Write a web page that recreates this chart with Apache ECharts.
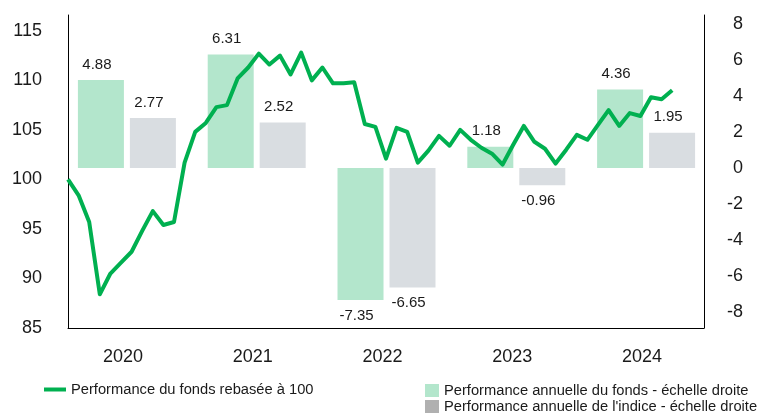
<!DOCTYPE html>
<html>
<head>
<meta charset="utf-8">
<script src="https://cdn.jsdelivr.net/npm/echarts@6/dist/echarts.min.js"></script>
<style>
  html, body { margin: 0; padding: 0; background: #fff; }
  #chart { width: 758px; height: 413px; }
</style>
</head>
<body>
<div id="chart"></div>
<script>
"use strict";

// annees (axe du bas)
var years = ["2020", "2021", "2022", "2023", "2024"];
// performance annuelle du fonds / de l'indice (echelle droite)
var fundYearly = [4.88, 6.31, -7.35, 1.18, 4.36];
var indexYearly = [2.77, 2.52, -6.65, -0.96, 1.95];
// valeur mensuelle du fonds rebasee a 100 (fin dec. 2019 -> sept. 2024)
var fundRebased = [
  100.0, 98.4, 95.7, 88.4, 90.5, 91.6, 92.7, 94.8, 96.8, 95.4, 95.7, 101.7,
  104.8, 105.7, 107.3, 107.5, 110.2, 111.3, 112.7, 111.6, 112.5, 110.6, 112.8, 110.0,
  111.3, 109.7, 109.7, 109.8, 105.6, 105.3, 102.1, 105.2, 104.8, 101.7, 102.9, 104.4,
  103.4, 105.0, 104.0, 103.2, 102.6, 101.5, 103.5, 105.4, 103.8, 103.1, 101.6, 103.0,
  104.5, 104.0, 105.5, 107.0, 105.4, 106.7, 106.4, 108.3, 108.1, 109.0
];
var monthsOnAxis = 60;

var nameLine = "Performance du fonds rebasée à 100";
var nameFund = "Performance annuelle du fonds - échelle droite";
var nameIndex = "Performance annuelle de l'indice - échelle droite";

var FONT = "'Liberation Sans', Arial, sans-serif";
var TXT = "#1a1a1a";

function initChart() {
  var myChart = echarts.init(document.getElementById("chart"), null, { renderer: "canvas" });

  function barItems(vals) {
    return vals.map(function (v) {
      return { value: v, label: { position: v < 0 ? "bottom" : "top" } };
    });
  }

  var barLabel = {
    show: true,
    distance: 8,
    offset: [-4, 0],
    color: TXT,
    fontSize: 15,
    fontFamily: FONT,
  };

  var legendText = { color: TXT, fontSize: 14.7, fontFamily: FONT };

  // une legende par entree, placees comme sur l'original
  function squareLegend(name, color, top) {
    return {
      data: [{ name: name, itemStyle: { color: color } }],
      left: 425,
      top: top,
      padding: 0,
      icon: "rect",
      itemWidth: 14,
      itemHeight: 13,
      textStyle: legendText,
    };
  }

  var options = {
    animation: false,
    textStyle: { fontFamily: FONT },
    grid: [
      { left: 68, right: 54, top: 15, bottom: 85 },
      { left: 62, right: 47, top: 15, bottom: 85 },
    ],
    legend: [
      {
        data: [nameLine],
        left: 44,
        top: 382,
        padding: 0,
        icon: "rect",
        itemWidth: 22,
        itemHeight: 4,
        textStyle: legendText,
      },
      squareLegend(nameFund, "#b3e6cc", 383),
      squareLegend(nameIndex, "#b0b0b0", 399),
    ],
    xAxis: [
      {
        type: "value",
        gridIndex: 0,
        min: 0,
        max: monthsOnAxis,
        axisLine: { show: true, onZero: false, lineStyle: { color: "#000", width: 1 } },
        axisTick: { show: false },
        axisLabel: { show: false },
        splitLine: { show: false },
      },
      {
        type: "category",
        gridIndex: 1,
        data: years,
        axisLine: { show: false },
        axisTick: { show: false },
        axisLabel: {
          color: TXT,
          fontSize: 18,
          fontFamily: FONT,
          margin: 20,
          padding: [0, 8, 0, 0],
        },
      },
    ],
    yAxis: [
      {
        type: "value",
        gridIndex: 0,
        position: "left",
        min: 85,
        max: 116.6,
        interval: 5,
        axisLine: { show: true, lineStyle: { color: "#000", width: 1 } },
        axisTick: { show: false },
        splitLine: { show: false },
        axisLabel: {
          color: TXT,
          fontSize: 18,
          fontFamily: FONT,
          margin: 26,
          showMaxLabel: false,
          formatter: function (v) {
            return v % 5 === 0 ? String(v) : "";
          },
        },
      },
      {
        type: "value",
        gridIndex: 0,
        position: "right",
        min: -8.9,
        max: 8.5,
        interval: 0.1,
        axisLine: { show: true, lineStyle: { color: "#000", width: 1 } },
        axisTick: { show: false },
        splitLine: { show: false },
        axisLabel: {
          color: TXT,
          fontSize: 18,
          fontFamily: FONT,
          margin: 39,
          align: "right",
          formatter: function (v) {
            var r = Math.round(v);
            if (Math.abs(v - r) < 1e-6 && r % 2 === 0) {
              return String(r === 0 ? 0 : r);
            }
            return "";
          },
        },
      },
      {
        type: "value",
        gridIndex: 1,
        min: -8.9,
        max: 8.5,
        show: false,
        splitLine: { show: false },
      },
    ],
    series: [
      {
        name: nameFund,
        type: "bar",
        xAxisIndex: 1,
        yAxisIndex: 2,
        barWidth: 46,
        barGap: "13%",
        itemStyle: { color: "#b3e6cc" },
        label: barLabel,
        data: barItems(fundYearly),
      },
      {
        name: nameIndex,
        type: "bar",
        xAxisIndex: 1,
        yAxisIndex: 2,
        barWidth: 46,
        itemStyle: { color: "#d9dde1" },
        label: barLabel,
        data: barItems(indexYearly),
      },
      {
        name: nameLine,
        type: "line",
        xAxisIndex: 0,
        yAxisIndex: 0,
        symbol: "none",
        z: 5,
        lineStyle: { color: "#00b050", width: 4, join: "round" },
        itemStyle: { color: "#00b050" },
        data: fundRebased.map(function (v, i) {
          return [i, v];
        }),
      },
    ],
  };
  myChart.setOption(options);
  return myChart;
}

initChart();
</script>
</body>
</html>
